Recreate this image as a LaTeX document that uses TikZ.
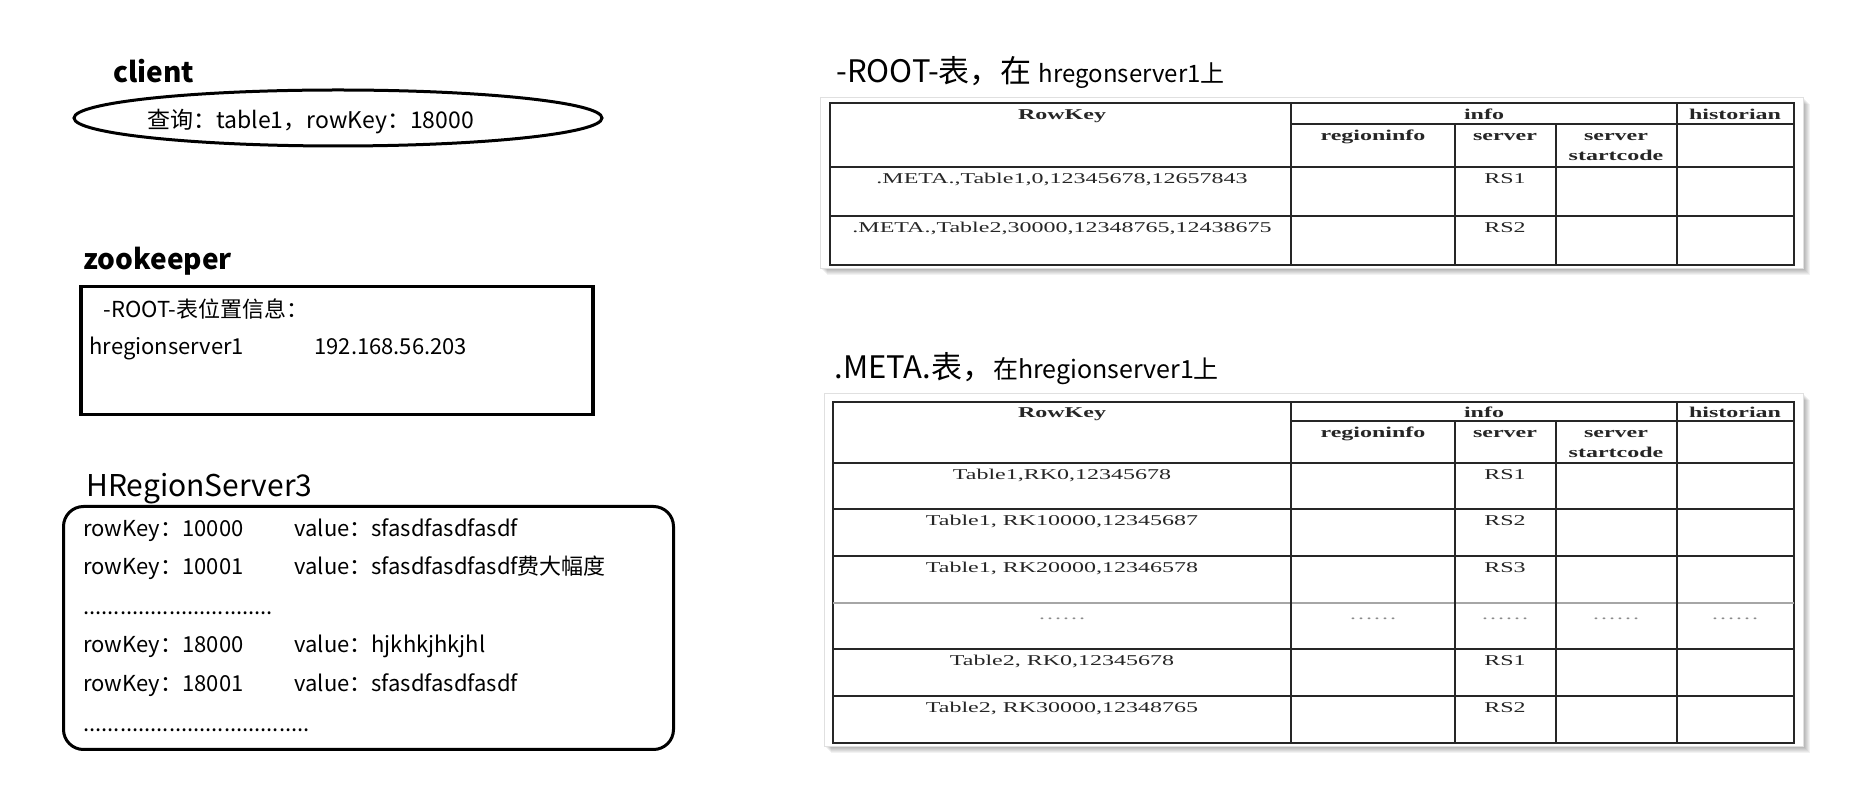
\documentclass[tikz,border=0pt]{standalone}
\usepackage{fontspec}
\setmainfont{Noto Sans CJK SC}
\newfontfamily\tabfont[FakeStretch=1.6]{Liberation Serif}
\usetikzlibrary{shapes.geometric}

\begin{document}
\begin{tikzpicture}
[x=0.5pt,y=-0.5pt,%
  lineDecorate/.style={draw,line width=1.5pt,inner sep=0pt},%
  tagDecorate/.style={anchor=base west,inner sep=0pt,font=\fontsize{14}{16}\selectfont\bfseries},%
  textDecorate/.style={anchor=base west,inner sep=0pt,font=\fontsize{11}{13}\selectfont},%
  titleDecorate/.style={anchor=base west,inner sep=0pt,font=\fontsize{15.5}{18}\selectfont},%
  cellDecorate/.style={anchor=base,inner sep=0pt,text=black!85,font=\tabfont\fontsize{7.5}{9}\selectfont},%
  headDecorate/.style={cellDecorate,font=\tabfont\bfseries\fontsize{7.5}{9}\selectfont},%
  gridDecorate/.style={line width=0.75pt,draw=black!85}]
\useasboundingbox (0,0) rectangle (1860,806);
%% client
\node[tagDecorate] (clientTag) at (113,83) {client};
\node[lineDecorate,ellipse,minimum width=264pt,minimum height=28pt] (client) at (338,118) {};
\node[textDecorate,font=\fontsize{11.5}{13}\selectfont] (query) at (147,129) {查询：table1，rowKey：18000};
%% zookeeper
\node[tagDecorate] (zkTag) at (83,270) {zookeeper};
\node[lineDecorate,line width=1.75pt,anchor=north west,minimum width=256pt,minimum height=64pt] (zk) at (79,285) {};
\node[textDecorate] (zkRoot) at (103,318) {-ROOT-表位置信息：};
\node[textDecorate] (zkHost) at (89,355) {hregionserver1};
\node[textDecorate] (zkAddr) at (314,355) {192.168.56.203};
%% HRegionServer3
\node[anchor=base west,inner sep=0pt,font=\fontsize{15}{18}\selectfont] (rsTag) at (86,497) {HRegionServer3};
\node[lineDecorate,rounded corners=10pt,anchor=north west,minimum width=305pt,minimum height=121.5pt] (rs) at (62,505) {};
\foreach \key/\val/\y in {10000/sfasdfasdfasdf/537, 10001/sfasdfasdfasdf费大幅度/575,
  18000/hjkhkjhkjhl/653, 18001/sfasdfasdfasdf/692}
{
  \node[textDecorate] (key\key) at (83,\y) {rowKey：\key};
  \node[textDecorate] (val\key) at (294,\y) {value：\val};
}
\node[textDecorate] (gapA) at (83,615) {...............................};
\node[textDecorate] (gapB) at (83,732) {.....................................};
%% -ROOT- table
\node[titleDecorate] (rootTitle) at (836,83) {-ROOT-表，在 {\fontsize{12}{14}\selectfont hregonserver1上}};
\foreach \s in {1,...,7}
  \fill[black,opacity=0.05,shift={(\s,\s)}] (820,97) rectangle (1803,268);
\filldraw[fill=white,draw=black!12] (820,97) rectangle (1803,268);
\draw[gridDecorate] (830,103) rectangle (1794,265);
\foreach \y in {167,216} \draw[gridDecorate] (830,\y) -- (1794,\y);
\draw[gridDecorate] (1291,124) -- (1794,124);
\foreach \x in {1291,1677} \draw[gridDecorate] (\x,103) -- (\x,265);
\foreach \x in {1455,1556} \draw[gridDecorate] (\x,124) -- (\x,265);
\foreach \name/\x/\y/\txt in {rootKey/1062/120/RowKey, rootInfo/1484/120/info,
  rootHist/1735/120/historian, rootReg/1373/141/regioninfo, rootSrv/1505/141/server,
  rootCode/1616/141/server, rootStart/1616/161/startcode}
  \node[headDecorate] (\name) at (\x,\y) {\txt};
\foreach \name/\y/\key/\srv in {rootA/184/{.META.,Table1,0,12345678,12657843}/RS1,
  rootB/233/{.META.,Table2,30000,12348765,12438675}/RS2}
{
  \node[cellDecorate] (\name Key) at (1062,\y) {\key};
  \node[cellDecorate] (\name Srv) at (1505,\y) {\srv};
}
%% .META. table
\node[titleDecorate] (metaTitle) at (834,379) {.META.表，{\fontsize{12.5}{14}\selectfont 在hregionserver1上}};
\foreach \s in {1,...,7}
  \fill[black,opacity=0.05,shift={(\s,\s)}] (824,393) rectangle (1803,746);
\filldraw[fill=white,draw=black!12] (824,393) rectangle (1803,746);
\draw[gridDecorate] (833,402) rectangle (1794,743);
\foreach \y in {463,509,556,649,696} \draw[gridDecorate] (833,\y) -- (1794,\y);
\draw[gridDecorate,draw=black!35,line width=1.2pt] (833,603) -- (1794,603);
\draw[gridDecorate] (1291,421) -- (1794,421);
\foreach \x in {1291,1677} \draw[gridDecorate] (\x,402) -- (\x,743);
\foreach \x in {1455,1556} \draw[gridDecorate] (\x,421) -- (\x,743);
\foreach \name/\x/\y/\txt in {metaKey/1062/418/RowKey, metaInfo/1484/418/info,
  metaHist/1735/418/historian, metaReg/1373/438/regioninfo, metaSrv/1505/438/server,
  metaCode/1616/438/server, metaStart/1616/458/startcode}
  \node[headDecorate] (\name) at (\x,\y) {\txt};
\foreach \name/\y/\key/\srv in {metaA/480/{Table1,RK0,12345678}/RS1,
  metaB/526/{Table1, RK10000,12345687}/RS2, metaC/573/{Table1, RK20000,12346578}/RS3,
  metaE/666/{Table2, RK0,12345678}/RS1, metaF/713/{Table2, RK30000,12348765}/RS2}
{
  \node[cellDecorate] (\name Key) at (1062,\y) {\key};
  \node[cellDecorate] (\name Srv) at (1505,\y) {\srv};
}
\foreach \name/\x in {dotKey/1062, dotReg/1373, dotSrv/1505, dotCode/1616, dotHist/1735}
  \node[cellDecorate,text=black!45] (\name) at (\x,620) {……};
\end{tikzpicture}
\end{document}
